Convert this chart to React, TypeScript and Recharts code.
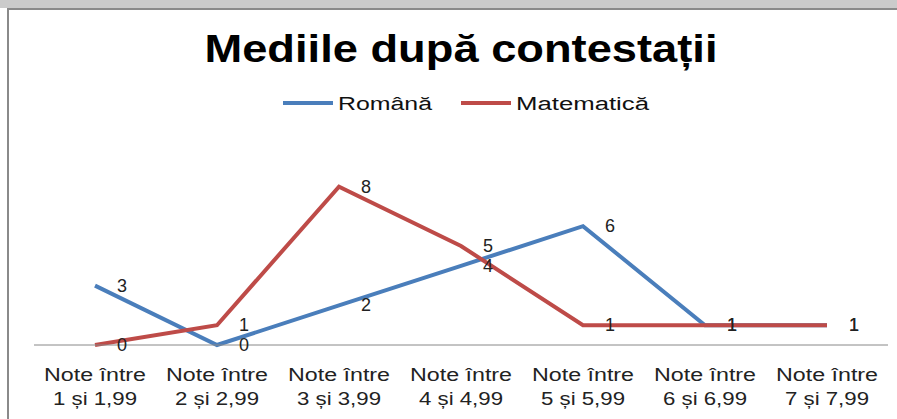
import { LineChart, Line, XAxis, YAxis, Legend, LabelList } from 'recharts';

const categories = [
  'Note între 1 și 1,99',
  'Note între 2 și 2,99',
  'Note între 3 și 3,99',
  'Note între 4 și 4,99',
  'Note între 5 și 5,99',
  'Note între 6 și 6,99',
  'Note între 7 și 7,99',
];
const seriesNames = ['Română', 'Matematică'];
const romana = [3, 0, 2, 4, 6, 1, 1];
const matematica = [0, 1, 8, 5, 1, 1, 1];

const BLUE = '#4a7ebb';
const RED = '#be4b48';
const FONT = '"Liberation Sans", Arial, sans-serif';

const data = categories.map((name, i) => ({
  name,
  [seriesNames[0]]: romana[i],
  [seriesNames[1]]: matematica[i],
}));

// two-line category label, stretched like the original
const CategoryTick = (props: any) => {
  const { x, y, payload } = props;
  const value: string = payload.value;
  const cut = value.indexOf('între') + 'între'.length;
  const top = value.slice(0, cut);
  const bottom = value.slice(cut + 1);
  return (
    <g>
      <text x={x} y={y + 36} textAnchor="middle" fontFamily={FONT} fontSize={18} fill="#222"
        textLength={102} lengthAdjust="spacingAndGlyphs">
        {top}
      </text>
      <text x={x} y={y + 60} textAnchor="middle" fontFamily={FONT} fontSize={18} fill="#222"
        textLength={84} lengthAdjust="spacingAndGlyphs">
        {bottom}
      </text>
    </g>
  );
};

const ValueLabel = (props: any) => {
  const { x, y, value } = props;
  return (
    <text x={x + 27} y={y} dy={6} textAnchor="middle" fontFamily={FONT} fontSize={18} fill="#222">
      {value}
    </text>
  );
};

const legendWidths: Record<string, number> = { 'Română': 94, 'Matematică': 133 };

const LegendBox = (props: any) => {
  const items = [...(props.payload || [])].sort(
    (a: any, b: any) => seriesNames.indexOf(a.value) - seriesNames.indexOf(b.value),
  );
  let cx = 283;
  return (
    <svg width={897} height={30} style={{ overflow: 'visible', display: 'block' }}>
      {items.map((it: any) => {
        const lx = cx;
        const w = legendWidths[it.value] ?? 90;
        cx += 50 + 5 + w + 29;
        return (
          <g key={it.value}>
            <line x1={lx} x2={lx + 50} y1={13} y2={13} stroke={it.color} strokeWidth={4} />
            <text x={lx + 55} y={20} fontFamily={FONT} fontSize={18} fill="#111"
              textLength={w} lengthAdjust="spacingAndGlyphs">
              {it.value}
            </text>
          </g>
        );
      })}
    </svg>
  );
};

export default function App() {
  return (
    <div style={{ position: 'absolute', left: 0, top: 0, width: 897, height: 419, background: '#fff', overflow: 'hidden' }}>
      <div style={{ position: 'absolute', left: 0, top: 0, width: 897, height: 8, background: '#cbcbcb' }} />
      <div style={{ position: 'absolute', left: 7, top: 8, width: 890, height: 2, background: '#8a8a8a' }} />
      <div style={{ position: 'absolute', left: 7, top: 8, width: 2, height: 411, background: '#8a8a8a' }} />
      <svg width={897} height={80} style={{ position: 'absolute', left: 0, top: 0 }}>
        <text x={461} y={62} textAnchor="middle" fontFamily={FONT} fontWeight="bold" fontSize={39} fill="#000"
          textLength={513} lengthAdjust="spacingAndGlyphs">
          Mediile după contestații
        </text>
      </svg>
      <div style={{ position: 'absolute', left: 0, top: 0 }}>
        <LineChart width={897} height={419} data={data} margin={{ top: 147, right: 9, bottom: 0, left: 34 }}>
          <XAxis
            dataKey="name"
            height={74}
            interval={0}
            padding={{ left: 61, right: 61 }}
            tickLine={false}
            tickSize={0}
            tickMargin={0}
            axisLine={{ stroke: '#888', strokeWidth: 1 }}
            tick={<CategoryTick />}
          />
          <YAxis hide domain={[0, 10]} />
          <Legend
            verticalAlign="middle"
            align="center"
            content={<LegendBox />}
            wrapperStyle={{ top: 90, left: 0, width: 897 }}
          />
          <Line dataKey={seriesNames[0]} stroke={BLUE} strokeWidth={4} dot={false} isAnimationActive={false}>
            <LabelList dataKey={seriesNames[0]} content={<ValueLabel />} />
          </Line>
          <Line dataKey={seriesNames[1]} stroke={RED} strokeWidth={4} dot={false} isAnimationActive={false}>
            <LabelList dataKey={seriesNames[1]} content={<ValueLabel />} />
          </Line>
        </LineChart>
      </div>
    </div>
  );
}
